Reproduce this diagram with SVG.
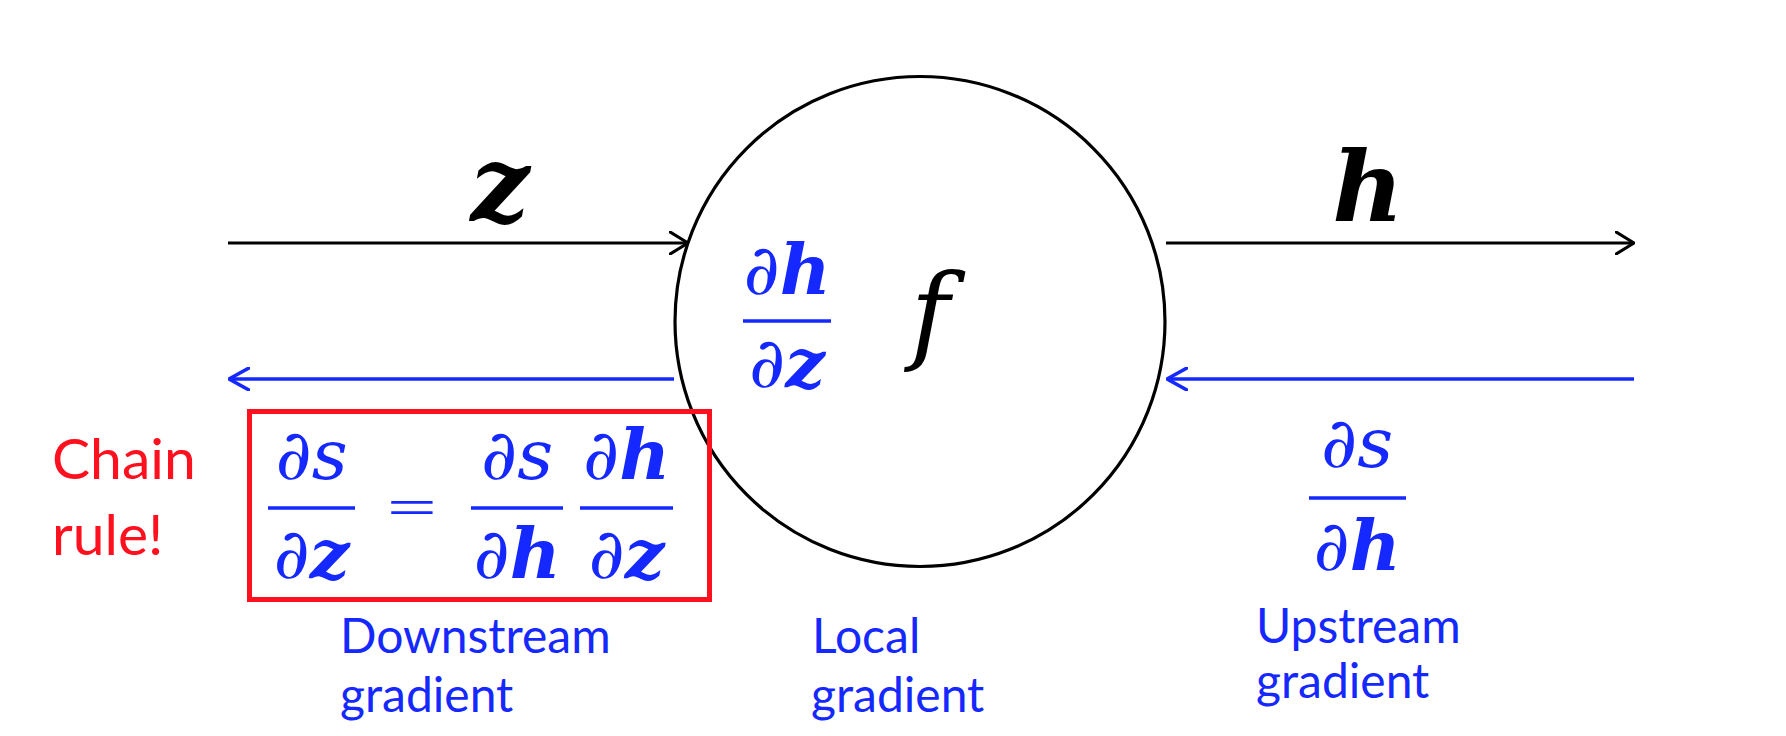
<svg xmlns="http://www.w3.org/2000/svg" width="1786" height="736" viewBox="0 0 1786 736">
<style>
.math{font-family:'DejaVu Serif',serif;font-style:italic;}
.bi{font-weight:bold;}
.up{font-style:normal;}
.blue{fill:#1428ff;}
.frac{font-size:70px;text-anchor:middle;}
.bar{stroke:#1428ff;stroke-width:3.5;}
.lbl{font-family:Lato,'Open Sans',sans-serif;font-size:48px;fill:#1428ff;}
.red{font-family:Lato,'Open Sans',sans-serif;font-size:57px;fill:#ff101e;}
.fwd{stroke:#000;stroke-width:3.2;fill:none;}
.bwd{stroke:#1428ff;stroke-width:3.6;fill:none;}
</style>
<defs>
<marker id="ahK" viewBox="0 0 20 24" refX="19" refY="12" markerWidth="20" markerHeight="24" markerUnits="userSpaceOnUse" orient="auto">
<path d="M1,1 L19,12 L1,23" fill="none" stroke="#000" stroke-width="3.2" stroke-linecap="round" stroke-linejoin="round"/>
</marker>
<marker id="ahB" viewBox="0 0 22 24" refX="21" refY="12" markerWidth="22" markerHeight="24" markerUnits="userSpaceOnUse" orient="auto">
<path d="M1,1 L21,12 L1,23" fill="none" stroke="#1428ff" stroke-width="3.6" stroke-linecap="round" stroke-linejoin="round"/>
</marker>
</defs>
<rect width="1786" height="736" fill="#fff"/>

<g id="connectors">
<line class="fwd" x1="228" y1="243" x2="688" y2="243" marker-end="url(#ahK)"/>
<line class="fwd" x1="1166" y1="243" x2="1634" y2="243" marker-end="url(#ahK)"/>
<line class="bwd" x1="674" y1="379" x2="229" y2="379" marker-end="url(#ahB)"/>
<line class="bwd" x1="1634" y1="379" x2="1167" y2="379" marker-end="url(#ahB)"/>
</g>

<g id="label-z"><text class="math bi" x="500" y="221" font-size="104" text-anchor="middle">z</text></g>
<g id="label-h"><text class="math bi" x="1368" y="221" font-size="98" text-anchor="middle">h</text></g>

<g id="node-f">
<circle cx="920" cy="321.5" r="245" fill="none" stroke="#000" stroke-width="3.2"/>
<text class="math" x="930" y="350" font-size="106" text-anchor="middle">f</text>
<g id="local-grad-frac">
<text class="math frac blue" x="787" y="294"><tspan class="up">∂</tspan><tspan class="bi">h</tspan></text>
<line class="bar" x1="743" y1="321" x2="831" y2="321"/>
<text class="math frac blue" x="787" y="387"><tspan class="up">∂</tspan><tspan class="bi">z</tspan></text>
</g>
</g>

<g id="upstream">
<text class="math frac blue" x="1357" y="467"><tspan class="up">∂</tspan>s</text>
<line class="bar" x1="1309" y1="498" x2="1406" y2="498"/>
<text class="math frac blue" x="1357" y="570"><tspan class="up">∂</tspan><tspan class="bi">h</tspan></text>
<text class="lbl" x="1256" y="643">Upstream</text>
<text class="lbl" x="1256" y="698">gradient</text>
</g>

<g id="chain-rule">
<rect x="249.5" y="411.5" width="460" height="188" fill="none" stroke="#ff101e" stroke-width="5"/>
<text class="math frac blue" x="311.5" y="479"><tspan class="up">∂</tspan>s</text>
<line class="bar" x1="268" y1="508" x2="355" y2="508"/>
<text class="math frac blue" x="311.5" y="578"><tspan class="up">∂</tspan><tspan class="bi">z</tspan></text>
<text class="blue" x="412" y="528" font-family="'DejaVu Sans',sans-serif" font-weight="200" font-size="66" text-anchor="middle">=</text>
<text class="math frac blue" x="517" y="479"><tspan class="up">∂</tspan>s</text>
<line class="bar" x1="471" y1="508" x2="563" y2="508"/>
<text class="math frac blue" x="517" y="578"><tspan class="up">∂</tspan><tspan class="bi">h</tspan></text>
<text class="math frac blue" x="626.5" y="479"><tspan class="up">∂</tspan><tspan class="bi">h</tspan></text>
<line class="bar" x1="580" y1="508" x2="673" y2="508"/>
<text class="math frac blue" x="626.5" y="578"><tspan class="up">∂</tspan><tspan class="bi">z</tspan></text>
<text class="red" x="52" y="479">Chain</text>
<text class="red" x="52" y="555">rule!</text>
</g>

<g id="downstream-label">
<text class="lbl" x="340" y="653">Downstream</text>
<text class="lbl" x="340" y="712">gradient</text>
</g>

<g id="local-label">
<text class="lbl" x="812" y="653">Local</text>
<text class="lbl" x="811" y="712">gradient</text>
</g>
</svg>
